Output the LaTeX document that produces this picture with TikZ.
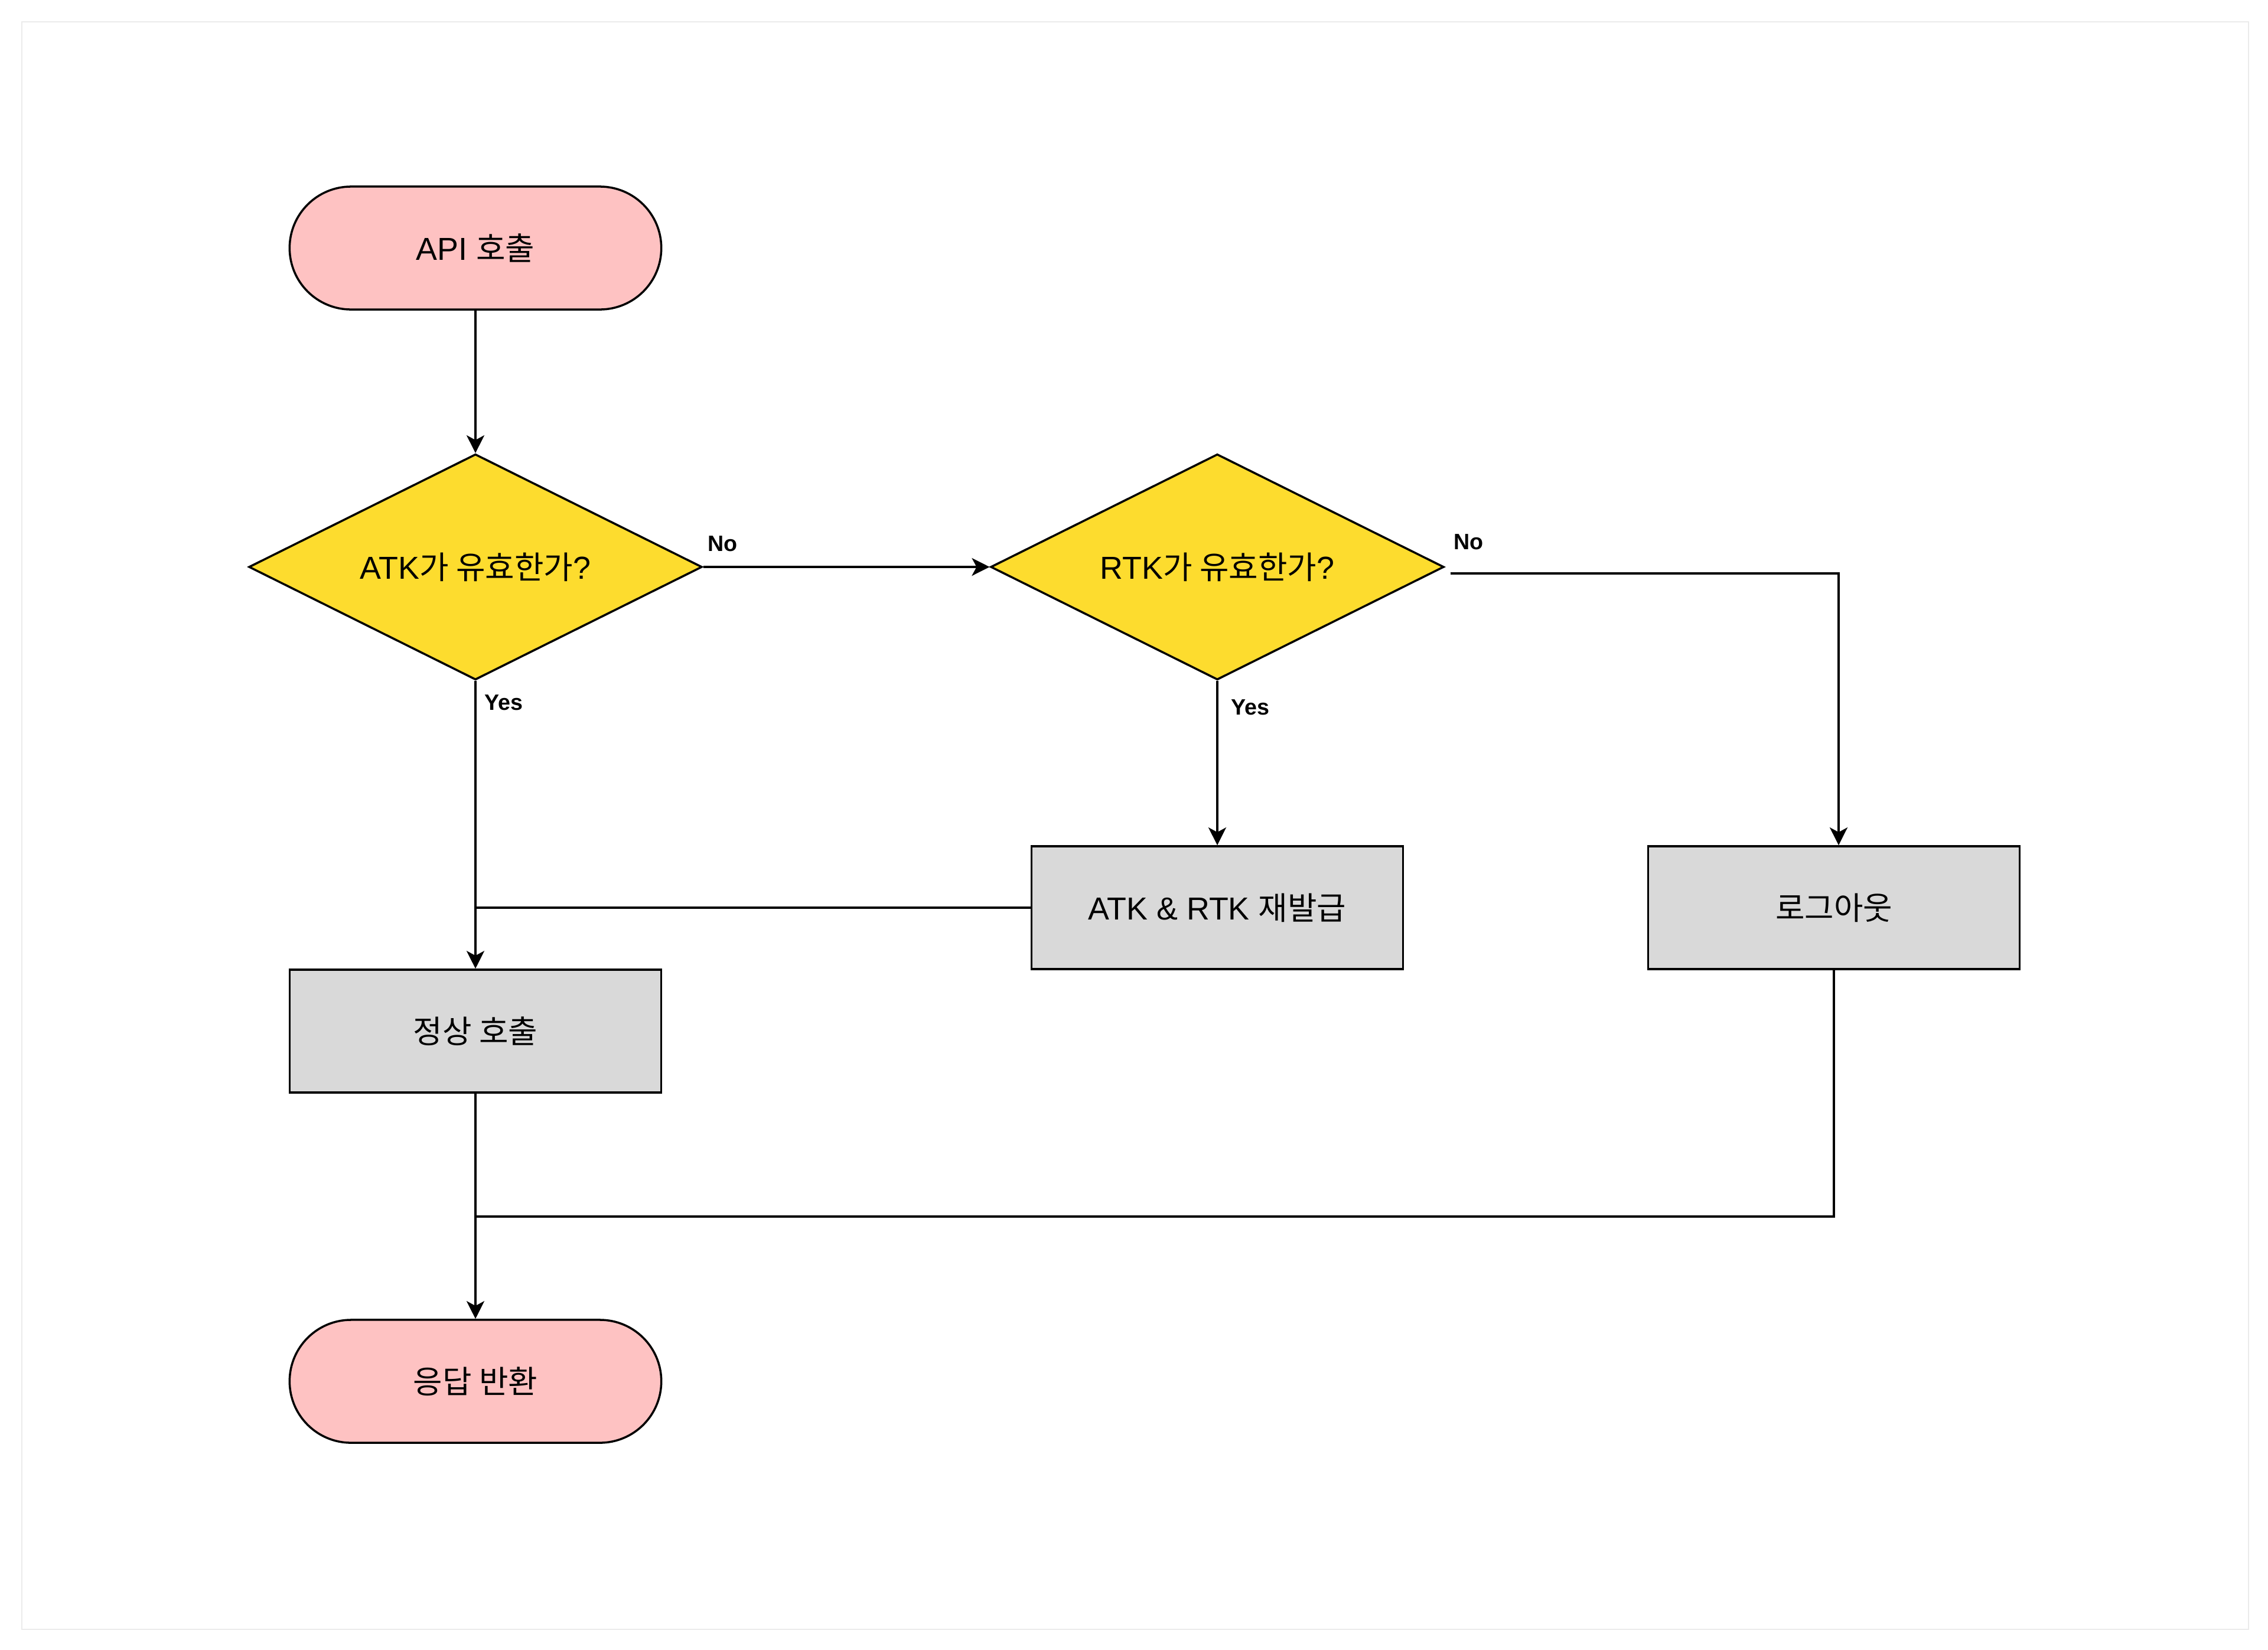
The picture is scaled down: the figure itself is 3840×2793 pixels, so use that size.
\documentclass[tikz,border=0pt]{standalone}
\usepackage{fontspec}
\setmainfont{Liberation Sans}
\newfontfamily\kr{Noto Sans CJK KR}
\usetikzlibrary{shapes.geometric,arrows.meta}
\definecolor{pinkfill}{HTML}{FEC2C2}
\definecolor{yellowfill}{HTML}{FDDC2E}
\definecolor{grayfill}{HTML}{D9D9D9}
\definecolor{framegray}{HTML}{EBEBEB}
\tikzset{
  base/.style={draw=black, line width=1pt, inner sep=0pt, align=center, font=\fontsize{15.3}{18}\selectfont},
  terminal/.style={base, rectangle, rounded corners=1.04cm, minimum width=6.29cm, minimum height=2.08cm, fill=pinkfill},
  decision/.style={base, diamond, shape aspect=2, minimum width=7.67cm, minimum height=3.82cm, fill=yellowfill},
  process/.style={base, rectangle, minimum width=6.29cm, minimum height=2.08cm, fill=grayfill},
  arr/.style={line width=1pt, -{Stealth[length=0.3cm, width=0.3cm, inset=0.08cm]}},
  conn/.style={line width=1pt},
  lbl/.style={inner sep=0pt, anchor=west, font=\fontsize{10.7}{12}\selectfont\bfseries}
}
\begin{document}
\begin{tikzpicture}[x=0.01cm, y=-0.01cm]
\useasboundingbox (0,0) rectangle (3840,2793);
\fill[white] (0,0) rectangle (3840,2793);
\draw[framegray, line width=0.6pt] (37,37) rectangle (3807,2759);

\node[terminal] (api) at (805,420) {API {\kr 호출}};
\node[decision] (d1) at (805,960) {ATK{\kr 가 유효한가}?};
\node[decision] (d2) at (2061,960) {RTK{\kr 가 유효한가}?};
\node[process] (renew) at (2061,1537) {ATK \& RTK {\kr 재발급}};
\node[process] (logout) at (3105,1537) {\kr 로그아웃};
\node[process] (normal) at (805,1746) {\kr 정상 호출};
\node[terminal] (resp) at (805,2339) {\kr 응답 반환};

\coordinate (join) at (805,2060);

\draw[arr] (api) -- (d1);
\draw[arr] (d1) -- (d2);
\draw[arr] (d1) -- (normal);
\draw[arr] (d2) -- (renew);
\draw[arr] ([shift={(9,11)}]d2.east) -| ([shift={(8,0)}]logout.north);
\draw[conn] (renew.west) -- (renew.west -| d1.south);
\draw[arr] (normal) -- (resp);
\draw[conn] (logout.south) |- (join);

\node[lbl] (no1) at (1198,921) {No};
\node[lbl] (yes1) at (820,1190) {Yes};
\node[lbl] (yes2) at (2084,1198) {Yes};
\node[lbl] (no2) at (2461,918) {No};
\end{tikzpicture}
\end{document}
